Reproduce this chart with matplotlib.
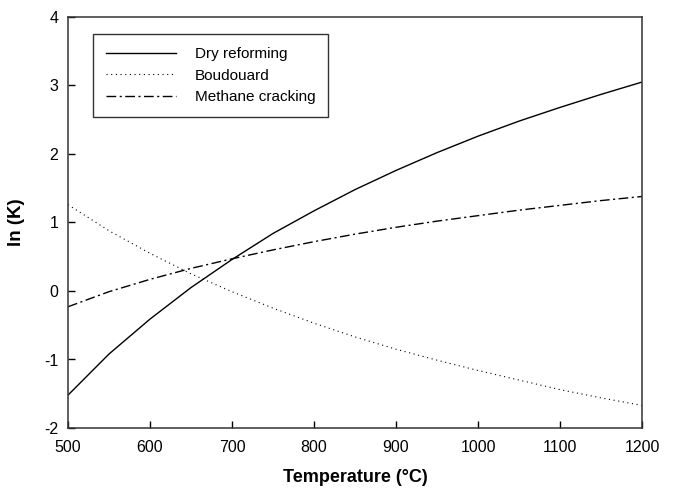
import matplotlib
matplotlib.use("Agg")
import matplotlib.pyplot as plt

plt.rcParams['font.family'] = ['Liberation Sans', 'DejaVu Sans']
plt.rcParams['axes.unicode_minus'] = False

# Equilibrium constants (ln K) versus temperature
temperature = [500, 550, 600, 650, 700, 750, 800, 850, 900, 950,
               1000, 1050, 1100, 1150, 1200]
dry_reforming = [-1.52, -0.92, -0.41, 0.05, 0.46, 0.84, 1.17, 1.48, 1.76,
                 2.02, 2.26, 2.48, 2.68, 2.87, 3.05]
boudouard = [1.26, 0.88, 0.55, 0.25, -0.01, -0.25, -0.47, -0.67, -0.85,
             -1.01, -1.16, -1.30, -1.44, -1.56, -1.67]
methane_cracking = [-0.23, -0.01, 0.17, 0.33, 0.47, 0.60, 0.72, 0.83, 0.93,
                    1.02, 1.10, 1.18, 1.25, 1.32, 1.38]

x_ticks = [500, 600, 700, 800, 900, 1000, 1100, 1200]
y_ticks = [-2, -1, 0, 1, 2, 3, 4]

fig = plt.figure(figsize=(6.74, 4.94), dpi=100)
ax = fig.add_axes([68 / 674, 1 - 428 / 494, 574 / 674, 411 / 494])

ax.plot(temperature, dry_reforming, color='black', lw=1.0,
        label='Dry reforming')
ax.plot(temperature, boudouard, color='black', lw=0.8,
        dashes=(1, 3.2), label='Boudouard')
ax.plot(temperature, methane_cracking, color='black', lw=1.0,
        dashes=(7, 2.5, 1.5, 2.5), label='Methane cracking')

ax.set_xlim(500, 1200)
ax.set_ylim(-2, 4)
ax.set_xticks(x_ticks)
ax.set_yticks(y_ticks)
ax.tick_params(direction='in', length=5, width=1, labelsize=11.5,
               top=False, right=False)
ax.tick_params(axis='x', pad=9)
ax.tick_params(axis='y', pad=7)
for s in ax.spines.values():
    s.set_linewidth(1.1)
    s.set_color('#333333')

ax.set_xlabel('Temperature (°C)', fontsize=13, fontweight='bold', labelpad=10)
ax.set_ylabel('ln (K)', fontsize=13.5, fontweight='bold', labelpad=14)

leg = ax.legend(loc='upper left', bbox_to_anchor=(0.0436, 0.9586),
                fontsize=11, frameon=True, fancybox=False,
                edgecolor='black', handlelength=4.6, handletextpad=1.2,
                labelspacing=0.5, borderpad=0.85, borderaxespad=0)
leg.get_frame().set_linewidth(1.0)

fig.savefig('out.png', dpi=100)
